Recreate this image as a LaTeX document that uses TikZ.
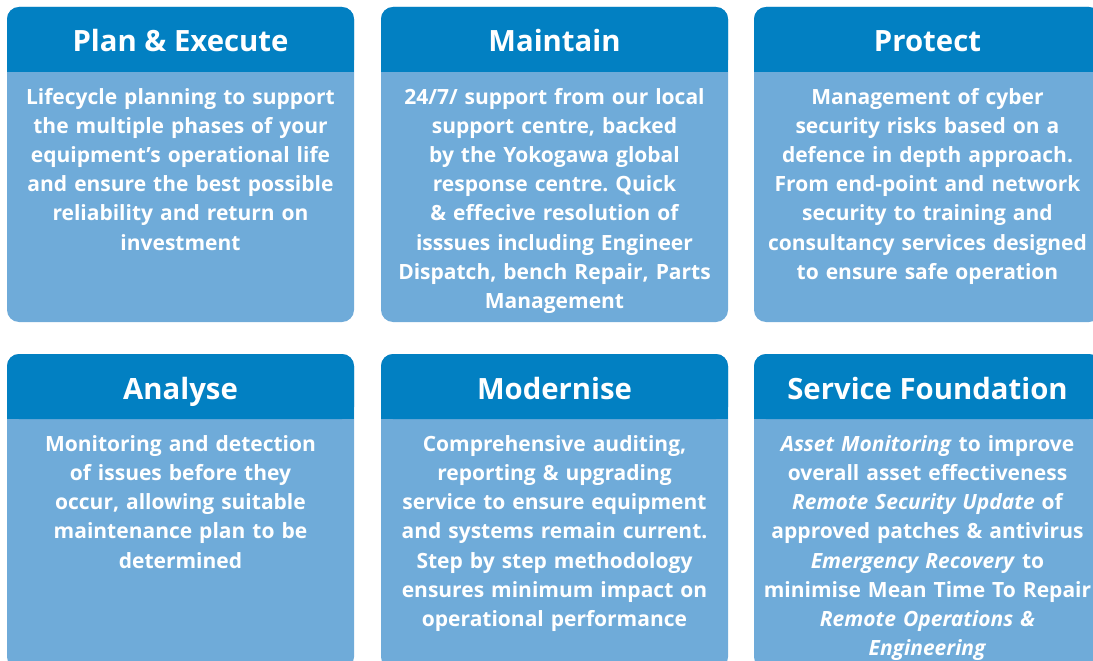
\documentclass[tikz,border=0pt]{standalone}
\usepackage{fontspec}
\setmainfont{Open Sans}
\frenchspacing
\definecolor{headblue}{RGB}{2,128,194}
\definecolor{bodyblue}{RGB}{111,171,217}
\tikzset{
  cardbody/.style={fill=bodyblue,rounded corners=12pt},
  cardhead/.style={fill=headblue},
  headtext/.style={text=white,anchor=base,inner sep=0pt,font=\fontsize{29.3}{34}\selectfont\bfseries},
  bodytext/.style={text=white,anchor=base,inner sep=0pt,align=center,text width=345pt,font=\fontsize{21}{29.25}\selectfont\bfseries},
}
\begin{document}
\begin{tikzpicture}[x=1pt,y=-1pt]
\useasboundingbox (0,0) rectangle (1093,661);
\clip (0,0) rectangle (1093,661);
% top row
\fill[cardbody] (7,7) rectangle ++(347,315);
\fill[cardhead,rounded corners=12pt] (7,7) rectangle ++(347,65);
\fill[cardhead] (7,50) rectangle ++(347,22);
\fill[cardbody] (381,7) rectangle ++(347,315);
\fill[cardhead,rounded corners=12pt] (381,7) rectangle ++(347,65);
\fill[cardhead] (381,50) rectangle ++(347,22);
\fill[cardbody] (754,7) rectangle ++(347,315);
\fill[cardhead,rounded corners=12pt] (754,7) rectangle ++(347,65);
\fill[cardhead] (754,50) rectangle ++(347,22);
% bottom row
\fill[cardbody] (7,354) rectangle ++(347,315);
\fill[cardhead,rounded corners=12pt] (7,354) rectangle ++(347,65);
\fill[cardhead] (7,397) rectangle ++(347,22);
\fill[cardbody] (381,354) rectangle ++(347,315);
\fill[cardhead,rounded corners=12pt] (381,354) rectangle ++(347,65);
\fill[cardhead] (381,397) rectangle ++(347,22);
\fill[cardbody] (754,354) rectangle ++(347,315);
\fill[cardhead,rounded corners=12pt] (754,354) rectangle ++(347,65);
\fill[cardhead] (754,397) rectangle ++(347,22);
% titles
\node[headtext] (planhead) at (180.5,52) {Plan \& Execute};
\node[headtext] (mainhead) at (554.5,52) {Maintain};
\node[headtext] (prothead) at (927.5,52) {Protect};
\node[headtext] (anahead) at (180.5,399) {Analyse};
\node[headtext] (modhead) at (554.5,399) {Modernise};
\node[headtext] (sfhead) at (927.5,399) {Service Foundation};
% texts
\node[bodytext] (plantext) at (180.5,104) {Lifecycle planning to support\\the multiple phases of your\\equipment’s operational life\\and ensure the best possible\\reliability and return on\\investment};
\node[bodytext] (maintext) at (554.5,104) {24/7/ support from our local\\support centre, backed\\by the Yokogawa global\\response centre. Quick\\\& effecive resolution of\\isssues including Engineer\\Dispatch, bench Repair, Parts\\Management};
\node[bodytext] (prottext) at (927.5,104) {Management of cyber\\security risks based on a\\defence in depth approach.\\From end-point and network\\security to training and\\consultancy services designed\\to ensure safe operation};
\node[bodytext] (anatext) at (180.5,451) {Monitoring and detection\\of issues before they\\occur, allowing suitable\\maintenance plan to be\\determined};
\node[bodytext] (modtext) at (554.5,451) {Comprehensive auditing,\\reporting \& upgrading\\service to ensure equipment\\and systems remain current.\\Step by step methodology\\ensures minimum impact on\\operational performance};
\node[bodytext] (sftext) at (927.5,451) {\textit{Asset Monitoring} to improve\\overall asset effectiveness\\\textit{Remote Security Update} of\\approved patches \& antivirus\\\textit{Emergency Recovery} to\\minimise Mean Time To Repair\\\textit{Remote Operations \&}\\\textit{Engineering}};
\end{tikzpicture}
\end{document}
